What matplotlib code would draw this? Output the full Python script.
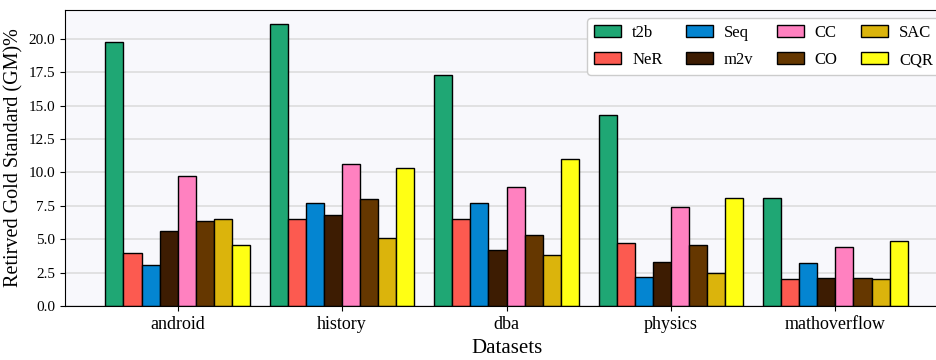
import numpy as np
import matplotlib
matplotlib.use("Agg")
from matplotlib import pyplot as plt

plt.rcParams['font.family'] = ['Liberation Serif', 'DejaVu Serif']

datasets = ['android', 'history', 'dba', 'physics', 'mathoverflow']
methods = ['t2b', 'NeR', 'Seq', 'm2v', 'CC', 'CO', 'SAC', 'CQR']
colors = ['#1fa774', '#fc5a50', '#0485d1', '#3d1c02',
          '#ff81c0', '#653700', '#dbb40c', '#ffff14']

# one list per method, values in dataset order
t2b = [19.8, 21.1, 17.3, 14.3, 8.1]
ner = [4.0, 6.5, 6.5, 4.7, 2.0]
seq = [3.1, 7.7, 7.7, 2.2, 3.2]
m2v = [5.6, 6.8, 4.2, 3.3, 2.1]
cc = [9.7, 10.6, 8.9, 7.4, 4.4]
co = [6.4, 8.0, 5.3, 4.6, 2.1]
sac = [6.5, 5.1, 3.8, 2.5, 2.0]
cqr = [4.6, 10.3, 11.0, 8.1, 4.9]
series = [t2b, ner, seq, m2v, cc, co, sac, cqr]

fig = plt.figure(figsize=(9.37, 3.6), dpi=100)
# axes run a little past the right edge, like the original
ax = fig.add_axes([0.0696, 0.15, 0.942, 0.822])
ax.set_facecolor('#f8f8fc')
ax.grid(axis='y', color='#dddddd', linewidth=1.2)
ax.set_axisbelow(True)

x = np.arange(len(datasets))
w = 0.11
for i, (name, vals) in enumerate(zip(methods, series)):
    ax.bar(x + (i - 3.5) * w, vals, w, color=colors[i], edgecolor='black',
           linewidth=1, label=name)

ax.set_xticks(x)
ax.set_xticklabels(datasets, fontsize=13)
ax.tick_params(axis='x', pad=4)
ax.tick_params(axis='y', labelsize=11)
ax.set_yticks(np.arange(0, 20.1, 2.5))
ax.set_xlabel('Datasets', fontsize=15, labelpad=4)
ax.set_ylabel('Retirved Gold Standard (GM)%', fontsize=14.5)

ax.legend(ncol=4, loc='upper right', fontsize=12, handlelength=1.62,
          handletextpad=0.66, columnspacing=1.4, labelspacing=0.66,
          edgecolor='#cccccc', fancybox=True, framealpha=1)

plt.savefig('out.png')
